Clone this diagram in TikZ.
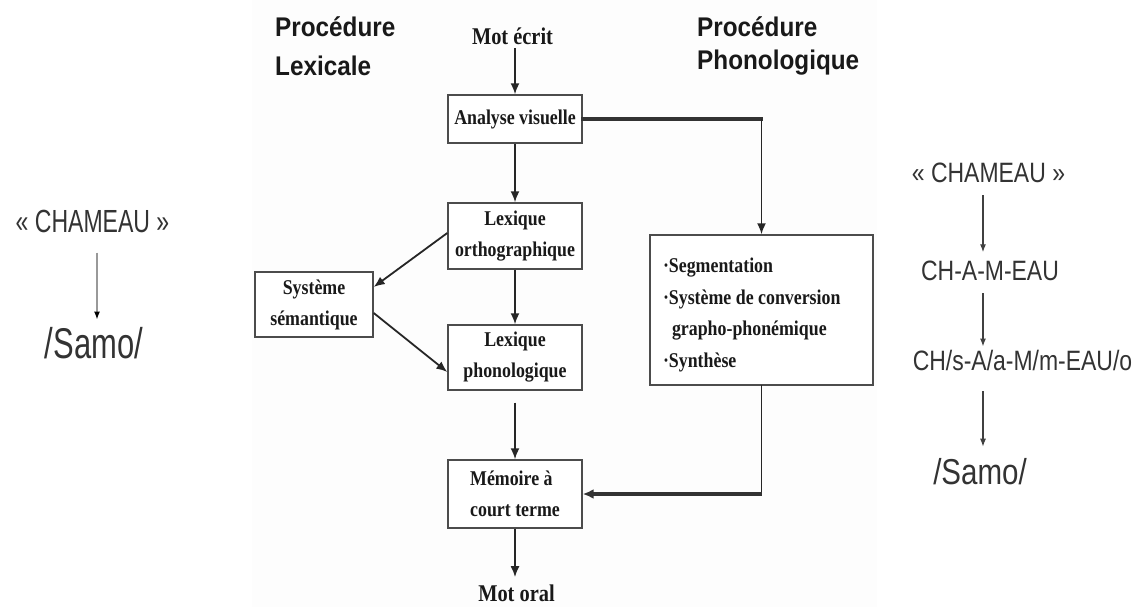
\documentclass[tikz,border=0pt]{standalone}
\usepackage{fontspec}
\usepackage{graphicx}
\usetikzlibrary{arrows.meta,calc}
\setmainfont{Liberation Serif}
\newfontfamily\boxfnt[FakeStretch=0.85]{Liberation Serif}
\newfontfamily\titlefnt[FakeStretch=0.9]{Liberation Sans}
\newfontfamily\rfnt[FakeStretch=0.82]{Liberation Sans}
\newfontfamily\lfnt[FakeStretch=0.72]{Liberation Sans}

\begin{document}
\begin{tikzpicture}[x=1pt,y=-1pt,
  box/.style={draw=black!70, line width=1.4pt, fill=white, inner sep=0pt,
    align=center, font=\boxfnt\bfseries\fontsize{21}{31}\selectfont,
    minimum width=134pt, text=black!90},
  lbl/.style={inner sep=0pt, anchor=base, text=black!90,
    font=\boxfnt\bfseries\fontsize{24}{24}\selectfont},
  ttl/.style={inner sep=0pt, anchor=base west, text=black!90,
    font=\titlefnt\bfseries\fontsize{27}{27}\selectfont},
  rtext/.style={inner sep=0pt, anchor=base, text=black!80,
    font=\rfnt\fontsize{28}{28}\selectfont},
  ltext/.style={inner sep=0pt, anchor=base, text=black!80,
    font=\lfnt\fontsize{32}{32}\selectfont},
  arr/.style={line width=1.8pt, draw=black!85, -{Latex[length=11pt,width=9pt]}},
  thin/.style={line width=1.8pt, draw=black!85, line cap=rect},
  heavy/.style={line width=3.2pt, draw=black!80, line cap=rect},
  rarr/.style={line width=1.2pt, draw=black!75, -{Latex[length=8pt,width=6pt]}},
  larr/.style={line width=2pt, draw=black!40, -{Latex[length=8pt,width=6pt,color=black]}}
]
\useasboundingbox (0,0) rectangle (1140,607);
\fill[white] (0,0) rectangle (1140,607);
\fill[black!0.8] (252,0) rectangle (877,607);

% titles
\node[ttl] (TL1) at (275,37) {Procédure};
\node[ttl] (TL2) at (275,76) {Lexicale};
\node[ttl] (TP1) at (697,37) {Procédure};
\node[ttl] (TP2) at (697,70) {Phonologique};

% central boxes
\node[lbl] (ME) at (512.5,45) {Mot écrit};
\node[box, minimum height=48pt] (AV) at (515,119) {Analyse visuelle};
\node[box, minimum height=66pt] (LO) at (515,236) {Lexique\\orthographique};
\node[box, minimum width=118pt, minimum height=65pt] (SS) at (314,304.5) {Système\\sémantique};
\node[box, minimum height=65pt] (LP) at (515,357.5) {Lexique\\phonologique};
\node[box, minimum height=68pt, align=left] (MCT) at (515,494) {Mémoire à\\court terme};
\node[box, minimum width=223pt, minimum height=150pt, align=flush left, text width=197pt,
  font=\boxfnt\bfseries\fontsize{21}{31.5}\selectfont] (PH) at (761.5,310)
  {\rule{0pt}{25pt}·Segmentation\\·Système de conversion\\\hspace*{9pt}grapho-phonémique\\·Synthèse};
\node[lbl] (MO) at (516.5,601) {Mot oral};

% connectors
\draw[arr, shorten <=3pt] (AV.north |- ME.south) -- (AV.north);
\draw[arr] (AV.south) -- (LO.north);
\coordinate (c1) at (PH.north |- AV.east);
\draw[heavy] (AV.east) -- (c1);
\draw[arr] (c1) -- (PH.north);
\draw[arr] (LO.south) -- (LP.north);
\draw[arr] ([yshift=3pt]LO.west) -- ([yshift=17.5pt]SS.east);
\draw[arr] ([yshift=-8.5pt]SS.east) -- ([yshift=-14.5pt]LP.west);
\draw[arr] ([yshift=-12pt]LP.south) -- (MCT.north);
\draw[arr, shorten >=7pt] (MCT.south) -- (MCT.south |- MO.north);
\coordinate (c2) at (PH.south |- MCT.east);
\draw[thin] (PH.south) -- (c2);
\draw[heavy, line cap=butt, -{Latex[length=11pt,width=10pt]}] (c2) -- (MCT.east);

% right column
\node[rtext] (R1) at (988.5,182) {« CHAMEAU »};
\node[rtext] (R2) at (990,280) {CH-A-M-EAU};
\node[rtext] (R3) at (1022.5,370) {CH/s-A/a-M/m-EAU/o};
\node[rtext, font=\rfnt\fontsize{36}{36}\selectfont] (R4) at (980,484) {/Samo/};
\draw[rarr, shorten <=13pt, shorten >=8pt] ([xshift=-5.5pt]R1.south) -- ([xshift=-7pt]R2.north);
\draw[rarr, shorten <=13pt, shorten >=3pt] ([xshift=-7pt]R2.south) -- ([xshift=-39.5pt]R3.north);
\draw[rarr, shorten <=21pt, shorten >=11pt] ([xshift=-39.5pt]R3.south) -- ([xshift=3pt]R4.north);

% left column
\node[ltext] (L1) at (92.5,232) {« CHAMEAU »};
\node[ltext, font=\lfnt\fontsize{43}{43}\selectfont] (L2) at (94,358) {/Samo/};
\draw[larr, shorten <=20pt, shorten >=7pt] ([xshift=4.5pt]L1.south) -- ([xshift=3pt]L2.north);
\end{tikzpicture}
\end{document}
